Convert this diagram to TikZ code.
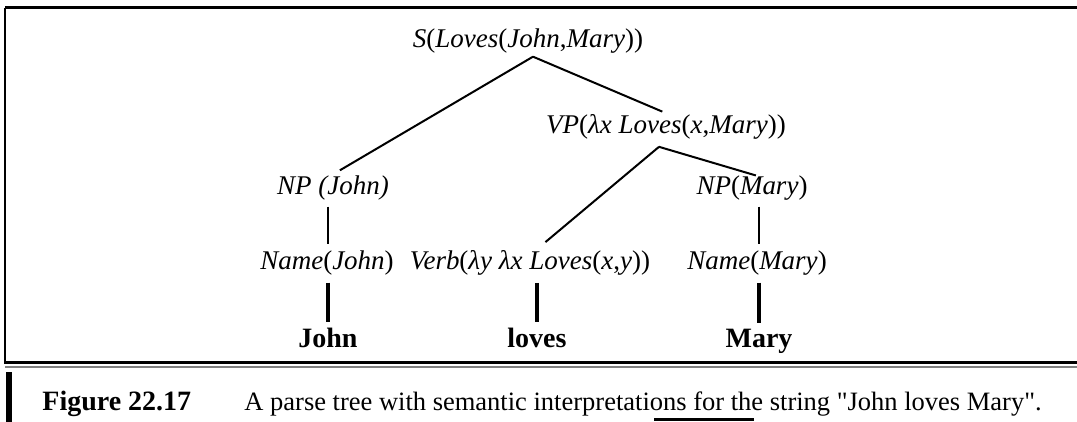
\documentclass[tikz,border=0pt]{standalone}
\usepackage{fontspec}
\setmainfont{Liberation Serif}[Ligatures=TeXOff]

\begin{document}
\begin{tikzpicture}[x=1pt, y=-1pt, thick,
    lbl/.style={font=\fontsize{27}{32}\selectfont, inner sep=1pt},
    word/.style={font=\fontsize{28}{32}\selectfont\bfseries, inner sep=1pt, anchor=base},
    branch/.style={line width=2pt},
    stem/.style={line width=3.5pt}]
        \useasboundingbox (0,0) rectangle (1077,422);

        % Draw the frame round the tree
        \draw[line width=3pt] (5,8) -- (1077,8);
        \draw[line width=1.5pt] (5,8) -- (5,364);
        \draw[line width=3pt] (5,362) -- (1077,362);
        \draw[line width=1.5pt, gray] (5,367) -- (1077,367);

        % Define the nodes of the tree
        \node[lbl] (s) at (528,41) {\textit{S}(\textit{Loves}(\textit{John},\textit{Mary}))};
        \node[lbl] (vp) at (666,127) {\textit{VP}(\textit{λx Loves}(\textit{x},\textit{Mary}))};
        \node[lbl] (npj) at (333,188) {\textit{NP (John)}};
        \node[lbl] (npm) at (752,188) {\textit{NP}(\textit{Mary})};
        \node[lbl] (namej) at (327,263) {\textit{Name}(\textit{John})};
        \node[lbl] (verb) at (530,263) {\textit{Verb}(\textit{λy λx Loves}(\textit{x},\textit{y}))};
        \node[lbl] (namem) at (757,263) {\textit{Name}(\textit{Mary})};

        % Words of the string
        \node[word] (john) at (328,348) {John};
        \node[word] (loves) at (537,348) {loves};
        \node[word] (mary) at (759,348) {Mary};

        % Define the forks below S and VP
        \coordinate (sfork) at ([xshift=5pt, yshift=-2pt]s.south);
        \coordinate (vpfork) at ([xshift=-7pt, yshift=-6pt]vp.south);

        % Draw branches
        \draw[branch, shorten >=8pt] (sfork) -- (npj.north);
        \draw[branch, shorten >=4pt] (sfork) -- (vp.north);
        \draw[branch, shorten >=11pt] (vpfork) -- (verb.north -| loves.north);
        \draw[branch, shorten >=-4pt] (vpfork) -- (npm.north);
        \draw[branch, shorten <=5pt, shorten >=5pt] (npj.south -| john.north) -- (namej.north -| john.north);
        \draw[branch, shorten <=5pt, shorten >=5pt] (npm.south -| mary.north) -- (namem.north -| mary.north);

        % Draw stems down to the words
        \draw[stem, shorten <=6pt, shorten >=5pt] (namej.south -| john.north) -- (john.north);
        \draw[stem, shorten <=6pt, shorten >=5pt] (verb.south -| loves.north) -- (loves.north);
        \draw[stem, shorten <=6pt, shorten >=5pt] (namem.south -| mary.north) -- (mary.north);

        % Caption below the frame
        \fill (6,372) rectangle (12,422);
        \node[anchor=base west, font=\fontsize{28}{32}\selectfont\bfseries, inner sep=0pt] (fig) at (42,410) {Figure 22.17};
        \node[anchor=base west, font=\fontsize{26.5}{32}\selectfont, inner sep=0pt] (cap) at (244,410) {A parse tree with semantic interpretations for the string "John loves Mary".};
        \draw[line width=3pt] (654,419) -- (754,419);
      \end{tikzpicture}
\end{document}
